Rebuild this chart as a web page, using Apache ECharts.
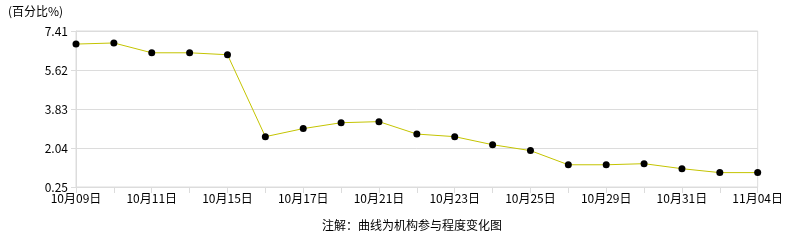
<!DOCTYPE html>
<html><head><meta charset="utf-8">
<script src="https://cdn.jsdelivr.net/npm/echarts@6/dist/echarts.min.js"></script>
<style>html,body{margin:0;padding:0;background:#fff}#c{width:786px;height:240px}</style>
</head><body><div id="c"></div>
<script>
const categories = ['10月09日','10月10日','10月11日','10月14日','10月15日','10月16日','10月17日','10月18日','10月21日','10月22日','10月23日','10月24日','10月25日','10月28日','10月29日','10月30日','10月31日','11月01日','11月04日'];
const values = [6.81,6.86,6.41,6.41,6.32,2.56,2.93,3.20,3.25,2.68,2.56,2.19,1.92,1.27,1.27,1.32,1.09,0.91,0.91];
const yMin = 0.25, yMax = 7.41, yStep = 1.79;
const unitLabel = '(百分比%)';
const note = '注解：曲线为机构参与程度变化图';
const font = '"Noto Sans CJK SC", sans-serif';
const chart = echarts.init(document.getElementById('c'), null, {renderer:'canvas'});
chart.setOption({
  animation:false,
  textStyle:{fontFamily:font},
  grid:{left:76,right:26,top:31,bottom:53,show:true,borderColor:'#dcdcdc',borderWidth:1},
  graphic:[
    {type:'text',left:8,top:5,style:{text:unitLabel,font:'12px '+font,fill:'#000'}},
    {type:'text',left:322,top:219,style:{text:note,font:'12px '+font,fill:'#000'}}
  ],
  xAxis:{type:'category',data:categories,boundaryGap:false,
    axisLine:{lineStyle:{color:'#dcdcdc'}},
    axisTick:{show:true,interval:0,length:6,lineStyle:{color:'#dcdcdc'}},
    axisLabel:{interval:1,color:'#000',fontSize:12,fontFamily:font,margin:5},
    splitLine:{show:false}},
  yAxis:{type:'value',min:yMin,max:yMax,interval:yStep,
    axisLine:{show:true,lineStyle:{color:'#dcdcdc'}},
    axisTick:{show:true,length:5,lineStyle:{color:'#dcdcdc'}},
    axisLabel:{color:'#000',fontSize:12,fontFamily:font,margin:8,formatter:v=>v.toFixed(2)},
    splitLine:{lineStyle:{color:'#dcdcdc'}}},
  series:[{type:'line',data:values,symbol:'circle',symbolSize:7,
    itemStyle:{color:'#000'},lineStyle:{color:'#c4c400',width:1}}]
});
</script></body></html>
